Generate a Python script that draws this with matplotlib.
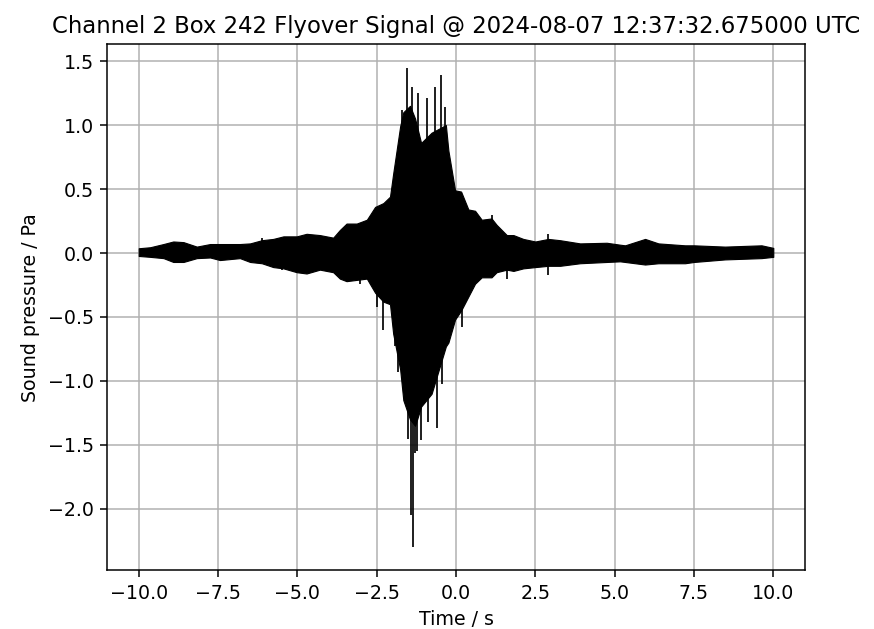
import matplotlib
matplotlib.use("Agg")
import matplotlib.pyplot as plt

# envelope of the flyover signal (time in s, pressure in Pa)
env_time = [
    -10.0, -9.64, -9.22, -8.91, -8.59, -8.17, -7.75, -7.44, -6.81, -6.49,
    -6.12, -5.76, -5.44, -5.02, -4.71, -4.29, -3.87, -3.66, -3.45, -3.13,
    -2.81, -2.55, -2.29, -2.08, -1.98, -1.76, -1.66, -1.45, -1.29, -1.10,
    -0.77, -0.32, -0.24, -0.03, 0.16, 0.39, 0.60, 0.81, 1.12, 1.28,
    1.60, 1.81, 2.12, 2.50, 2.91, 3.28, 3.91, 4.75, 5.17, 5.33,
    5.96, 6.38, 7.22, 7.50, 8.48, 9.63, 10.0,
]
env_upper = [
    0.037, 0.045, 0.07, 0.09, 0.085, 0.05, 0.07, 0.07, 0.07, 0.075,
    0.10, 0.11, 0.13, 0.13, 0.15, 0.14, 0.12, 0.18, 0.23, 0.23,
    0.26, 0.36, 0.39, 0.44, 0.62, 0.99, 1.10, 1.15, 1.05, 0.86,
    0.94, 1.00, 0.80, 0.49, 0.48, 0.34, 0.33, 0.26, 0.27, 0.22,
    0.14, 0.14, 0.11, 0.09, 0.11, 0.10, 0.075, 0.08, 0.065, 0.06,
    0.11, 0.075, 0.06, 0.06, 0.05, 0.06, 0.04,
]
env_lower = [
    -0.023, -0.03, -0.04, -0.07, -0.07, -0.04, -0.035, -0.055, -0.04, -0.07,
    -0.08, -0.11, -0.12, -0.15, -0.16, -0.13, -0.15, -0.20, -0.22, -0.21,
    -0.20, -0.31, -0.38, -0.40, -0.63, -0.91, -1.15, -1.30, -1.35, -1.20,
    -1.10, -0.73, -0.70, -0.52, -0.45, -0.34, -0.24, -0.19, -0.19, -0.15,
    -0.13, -0.14, -0.12, -0.11, -0.10, -0.10, -0.08, -0.07, -0.065, -0.07,
    -0.09, -0.08, -0.08, -0.07, -0.05, -0.04, -0.03,
]

# isolated spikes sticking out of the envelope
spike_time = [
    -1.55, -1.39, -1.71, -0.92, -0.66, -0.47, -0.35, -1.19, -0.29, 1.12,
    2.91, -6.12, -1.37, -1.42, -1.29, -1.24, -1.50, -0.59, -0.87, -1.82,
    -1.92, -2.29, -0.45, 0.18, -2.50, 1.60, 2.91, -3.03, -5.50, -1.10,
]
spike_value = [
    1.443, 1.30, 1.12, 1.21, 1.30, 1.39, 1.14, 1.25, 0.85, 0.30,
    0.15, 0.115, -2.295, -2.05, -1.56, -1.55, -1.45, -1.37, -1.32, -0.93,
    -0.73, -0.60, -1.02, -0.58, -0.42, -0.20, -0.17, -0.24, -0.13, -1.46,
]

dpi = 136.6
fig = plt.figure(figsize=(874 / dpi, 629 / dpi), dpi=dpi)
ax = fig.add_axes([107 / 874, 58.6 / 629, 698 / 874, 526 / 629])

ax.fill_between(env_time, env_lower, env_upper, color="black", linewidth=0.6, zorder=2)
ax.vlines(spike_time, 0, spike_value, color="black", linewidth=0.9, zorder=2)

ax.set_xlim(-11, 11)
ax.set_ylim(-2.48, 1.63)
ax.grid(True)
ax.set_axisbelow(True)
ax.set_xlabel("Time / s")
ax.set_ylabel("Sound pressure / Pa")
ax.set_title("Channel 2 Box 242 Flyover Signal @ 2024-08-07 12:37:32.675000 UTC")

plt.savefig("out.png", dpi=dpi)
